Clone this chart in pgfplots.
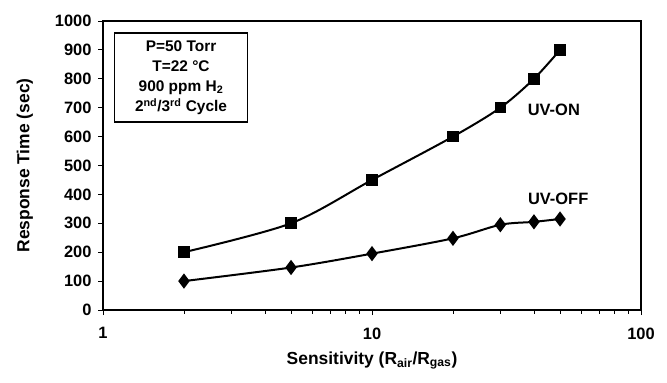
\documentclass[border=0pt]{standalone}
\usepackage{fontspec}
\setmainfont{Liberation Sans}
\usepackage{pgfplots}
\pgfplotsset{compat=1.18}
\begin{document}
\begin{tikzpicture}
\useasboundingbox (-103bp,-73bp) rectangle (564bp,310bp);
\begin{axis}[
 at={(0,0)}, anchor=south west,
 scale only axis, width=538bp, height=289bp,
 xmode=log, xmin=1, xmax=100, ymin=0, ymax=1000,
 xtick={1,10,100}, xticklabels={1,10,100},
 minor xtick={2,3,4,5,6,7,8,9,20,30,40,50,60,70,80,90},
 ytick={0,100,...,1000},
 tick pos=left, tick align=outside,
 major tick length=5bp, minor tick length=3.5bp,
 axis line style={line width=1.4bp},
 every tick/.style={black, line width=0.9bp},
 ticklabel style={font=\fontsize{16.5}{19}\selectfont\bfseries},
 xticklabel style={yshift=-9bp},
 yticklabel style={xshift=-3bp},
 /pgf/number format/assume math mode=true,
 /pgf/number format/1000 sep={},
 xlabel={Sensitivity (R\textsubscript{air}/R\textsubscript{gas})},
 ylabel={Response Time (sec)},
 label style={font=\fontsize{17.5}{20}\selectfont\bfseries},
 xlabel style={at={(axis description cs:0.5,-0.175)}, anchor=center},
 ylabel style={at={(axis description cs:-0.145,0.5)}, anchor=center},
]
\addplot[black, line width=2bp, smooth, tension=0.5, mark=square*, mark size=4.8bp, mark options={solid}]
 coordinates {(2,200)(5,300)(10,450)(20,600)(30,700)(40,800)(50,900)};
\addplot[black, line width=2bp, smooth, tension=0.5, mark=diamond*, mark size=6bp, mark options={solid}]
 coordinates {(2,100)(5,147)(10,195)(20,248)(30,295)(40,305)(50,315)};
\node[draw, line width=1.6bp, fill=white, align=center, font=\fontsize{15.5}{20}\selectfont\bfseries, minimum width=133bp, minimum height=89bp, inner sep=0pt] at (rel axis cs:0.145,0.804) {P=50 Torr\\T=22 °C\\900 ppm H\textsubscript{2}\\2\textsuperscript{nd}/3\textsuperscript{rd} Cycle};
\node[font=\fontsize{16.5}{19}\selectfont\bfseries] at (rel axis cs:0.838,0.692) {UV-ON};
\node[font=\fontsize{16.5}{19}\selectfont\bfseries] at (rel axis cs:0.846,0.384) {UV-OFF};
\end{axis}
\end{tikzpicture}
\end{document}
